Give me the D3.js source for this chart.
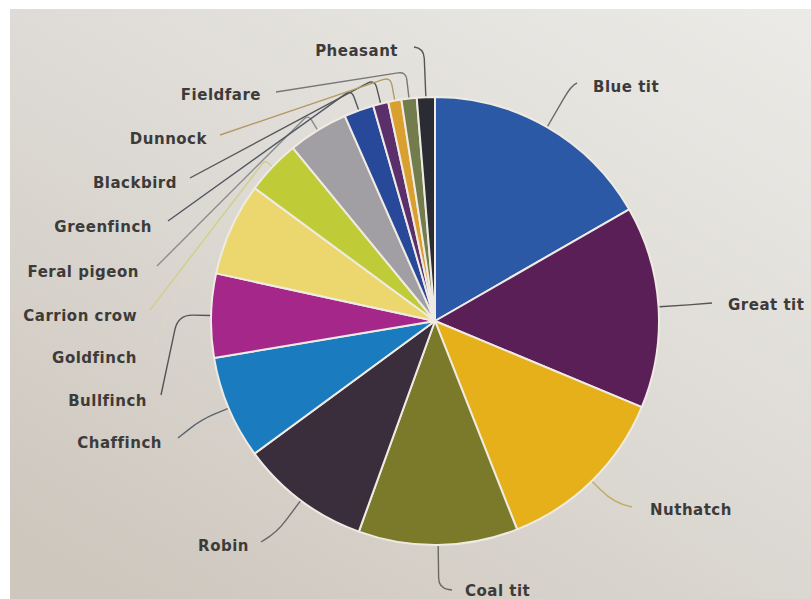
<!DOCTYPE html>
<html><head><meta charset="utf-8">
<script src="https://cdn.jsdelivr.net/npm/d3@7"></script>
<style>html,body{margin:0;padding:0;background:#fff;}svg{display:block;}</style>
</head><body><svg id="c" width="811" height="599"></svg>
<script>
// ---- data ----
const species = ["Blue tit","Great tit","Nuthatch","Coal tit","Robin","Chaffinch","Bullfinch","Goldfinch","Carrion crow","Feral pigeon","Greenfinch","Blackbird","Dunnock","Fieldfare","Pheasant"];
const shares  = [16.7, 14.6, 12.75, 11.5, 9.4, 7.45, 6.05, 6.7, 3.95, 4.35, 2.15, 1.1, 0.95, 1.1, 1.3];

// ---- style ----
const sliceColors  = ["#2c59a5","#5b1f57","#e5b019","#7b7a2a","#3a2d3c","#1b7bbf","#a6278a","#ecd66e","#bfcb37","#a19fa3","#28489a","#5b2e6c","#d9a030","#727c4c","#2b2b33"];
const leaderColors = ["#6a6a6a","#555555","#c4ab62","#6a6a5a","#666666","#5a6470","#555555","#e2dcb4","#cfd08a","#8a8a8a","#505866","#555555","#b59a68","#777777","#555555"];
const leaderOpacity = [1,1,1,1,1,1,1,0.35,1,1,1,1,1,1,1];
// label layout: [x, y, anchor, leader end x, leader end y, radial extension, bend]
const labelLayout = [
  [593, 87, "start", 577, 83, 48, 15],
  [728, 305, "start", 712, 303, 30, 0],
  [650, 510, "start", 632, 507, 32, 20],
  [465, 591, "start", 452, 590, 43, 10],
  [249, 546, "end", 261, 542, 40, 15],
  [162, 443, "end", 178, 438, 30, 15],
  [147, 401, "end", 161, 395, 33, 15],
  [137, 358, "end", 150, 352, 20, 8],
  [137, 316, "end", 150, 310, 10, 5],
  [139, 272, "end", 157, 266, 18, 6],
  [152, 227, "end", 168, 221, 22, 8],
  [177, 183, "end", 190, 178, 25, 8],
  [207, 139, "end", 220, 135, 24, 8],
  [261, 95, "end", 276, 92, 27, 8],
  [398, 51, "end", 414, 47, 49, 10]
];

const svg = d3.select("#c");
const W = 811, H = 599;
const cx = 435, cy = 321, R = 224;

const defs = svg.append("defs");
const g = defs.append("linearGradient").attr("id","paper")
  .attr("x1","0.95").attr("y1","0").attr("x2","0.15").attr("y2","1");
g.append("stop").attr("offset","0").attr("stop-color","#ebeae6");
g.append("stop").attr("offset","0.45").attr("stop-color","#dfdcd7");
g.append("stop").attr("offset","1").attr("stop-color","#cec7be");

svg.append("rect").attr("width",W).attr("height",H).attr("fill","#ffffff");
svg.append("rect").attr("x",10).attr("y",9).attr("width",W-10).attr("height",H-9).attr("fill","url(#paper)");

const pie = d3.pie().sort(null).value(d => d).startAngle(0).endAngle(2*Math.PI);
const arcs = pie(shares);
const arc = d3.arc().innerRadius(0).outerRadius(R);

const root = svg.append("g").attr("transform", `translate(${cx},${cy})`);
root.selectAll("path.slice").data(arcs).join("path")
  .attr("class","slice")
  .attr("d", arc)
  .attr("fill", (d,i) => sliceColors[i])
  .attr("stroke", "#efebe3")
  .attr("stroke-width", 2)
  .attr("stroke-linejoin","round");

// leader lines
function leaderPath(d, i) {
  const L = labelLayout[i];
  const a = (d.startAngle + d.endAngle) / 2;
  const ux = Math.sin(a), uy = -Math.cos(a);
  const p0 = [ux*(R+1), uy*(R+1)];
  const c = [ux*(R+L[5]), uy*(R+L[5])];
  const end = [L[3]-cx, L[4]-cy];
  const b = L[6];
  const d1 = Math.hypot(c[0]-p0[0], c[1]-p0[1]);
  const d2 = Math.hypot(end[0]-c[0], end[1]-c[1]);
  const b1 = Math.min(b, d1), b2 = Math.min(b, d2);
  const p1 = [c[0] - (c[0]-p0[0])/d1*b1, c[1] - (c[1]-p0[1])/d1*b1];
  const p2 = [c[0] + (end[0]-c[0])/d2*b2, c[1] + (end[1]-c[1])/d2*b2];
  const p = d3.path();
  p.moveTo(p0[0], p0[1]);
  p.lineTo(p1[0], p1[1]);
  p.quadraticCurveTo(c[0], c[1], p2[0], p2[1]);
  p.lineTo(end[0], end[1]);
  return p.toString();
}
root.selectAll("path.leader").data(arcs).join("path")
  .attr("class","leader")
  .attr("d", leaderPath)
  .attr("fill","none")
  .attr("stroke", (d,i) => leaderColors[i])
  .attr("stroke-opacity", (d,i) => leaderOpacity[i])
  .attr("stroke-width", 1.4);

svg.selectAll("text.lab").data(species).join("text")
  .attr("class","lab")
  .attr("x", (d,i) => labelLayout[i][0])
  .attr("y", (d,i) => labelLayout[i][1])
  .attr("text-anchor", (d,i) => labelLayout[i][2])
  .attr("dominant-baseline","central")
  .attr("font-family","DejaVu Sans, sans-serif")
  .attr("font-weight","bold")
  .attr("font-size", 15)
  .attr("letter-spacing", "0.5px")
  .attr("fill","#3d3b3a")
  .text(d => d);
</script>
</body></html>
